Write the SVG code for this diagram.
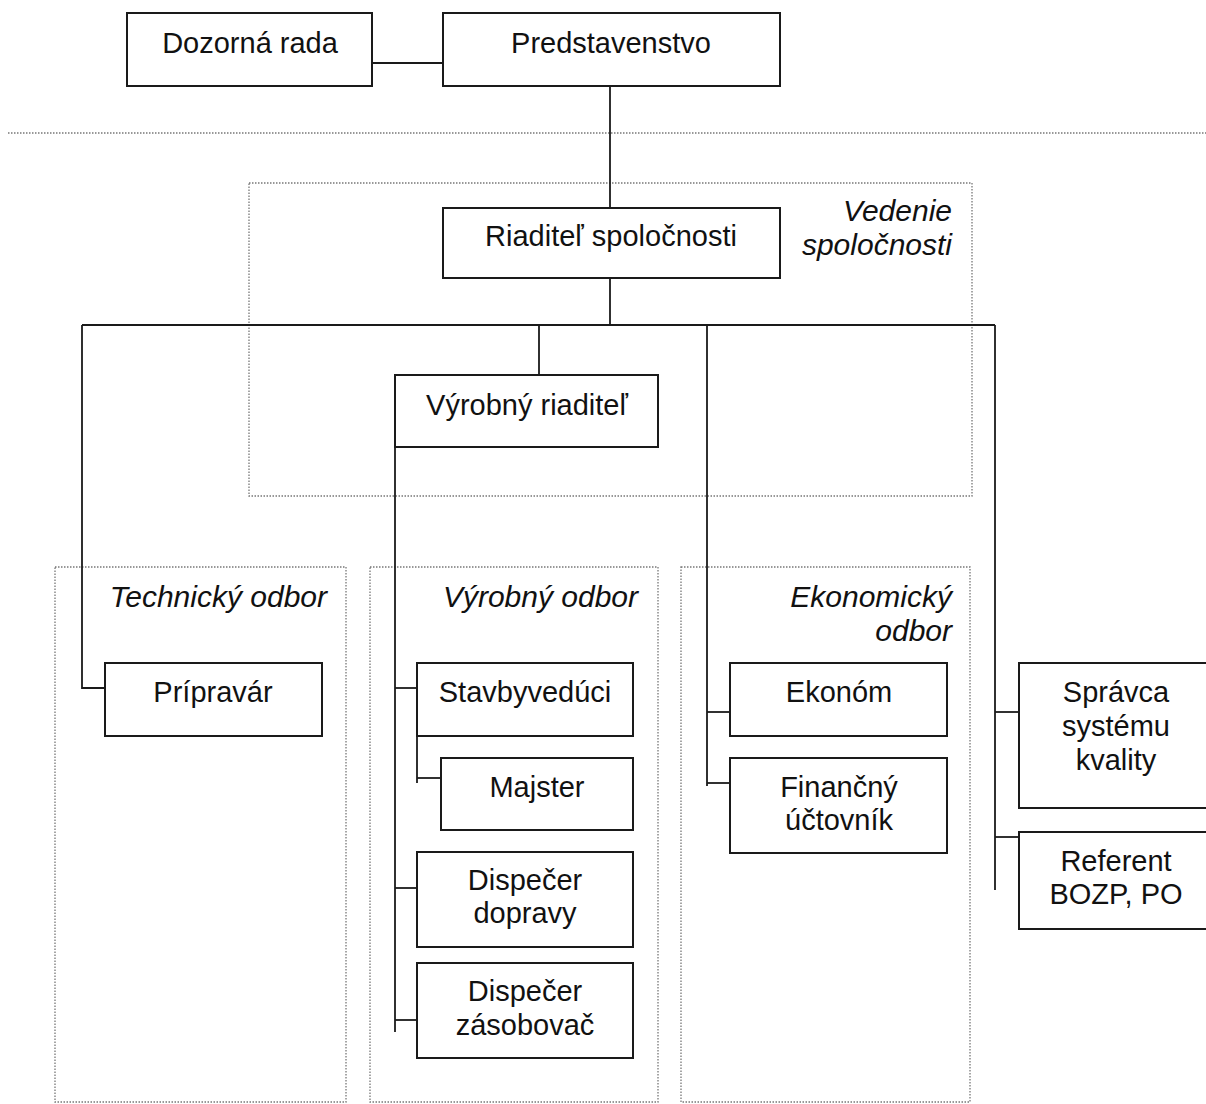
<svg xmlns="http://www.w3.org/2000/svg" width="1206" height="1104" viewBox="0 0 1206 1104">
<style>
.box{fill:#fff;stroke:#1a1a1a;stroke-width:2}
.grp{fill:none;stroke:#777;stroke-width:1.3;stroke-dasharray:1.5 1.5}
.c{fill:none;stroke:#1a1a1a;stroke-width:1.8}
text{font-family:"Liberation Sans",Arial,sans-serif;font-size:29px;fill:#111}
.t{text-anchor:middle}
.g{font-style:italic;text-anchor:end;font-size:30px}
</style>
<rect width="1206" height="1104" fill="#fff"/>
<g id="groups">
<line class="grp" x1="8" y1="133" x2="1206" y2="133"/>
<rect id="vedenie" class="grp" x="249" y="183" width="723" height="313"/>
<rect id="technicky" class="grp" x="55" y="567" width="291" height="535"/>
<rect id="vyrobny" class="grp" x="370" y="567" width="288" height="535"/>
<rect id="ekonomicky" class="grp" x="681" y="567" width="289" height="535"/>
<text class="g" x="952" y="221">Vedenie</text>
<text class="g" x="952" y="255">spoločnosti</text>
<text class="g" x="327" y="607">Technický odbor</text>
<text class="g" x="638" y="607">Výrobný odbor</text>
<text class="g" x="952" y="607">Ekonomický</text>
<text class="g" x="952" y="641">odbor</text>
</g>
<g id="connectors">
<line class="c" x1="372" y1="63" x2="443" y2="63"/>
<line class="c" x1="610" y1="86" x2="610" y2="208"/>
<line class="c" x1="610" y1="278" x2="610" y2="325"/>
<line class="c" x1="82" y1="325" x2="995" y2="325"/>
<line class="c" x1="539" y1="325" x2="539" y2="375"/>
<polyline class="c" points="82,325 82,688 105,688"/>
<line class="c" x1="395" y1="447" x2="395" y2="1032"/>
<line class="c" x1="395" y1="688" x2="417" y2="688"/>
<polyline class="c" points="417,736 417,783"/>
<line class="c" x1="417" y1="778" x2="441" y2="778"/>
<line class="c" x1="395" y1="888" x2="417" y2="888"/>
<line class="c" x1="395" y1="1020" x2="417" y2="1020"/>
<line class="c" x1="707" y1="325" x2="707" y2="786"/>
<line class="c" x1="707" y1="712" x2="730" y2="712"/>
<line class="c" x1="707" y1="783" x2="730" y2="783"/>
<line class="c" x1="995" y1="325" x2="995" y2="890"/>
<line class="c" x1="995" y1="712" x2="1019" y2="712"/>
<line class="c" x1="995" y1="837" x2="1019" y2="837"/>
</g>
<g id="dozorna"><rect class="box" x="127" y="13" width="245" height="73"/><text class="t" x="250" y="53">Dozorná rada</text></g>
<g id="predstavenstvo"><rect class="box" x="443" y="13" width="337" height="73"/><text class="t" x="611" y="53">Predstavenstvo</text></g>
<g id="riaditel"><rect class="box" x="443" y="208" width="337" height="70"/><text class="t" x="611" y="246">Riaditeľ spoločnosti</text></g>
<g id="vyrobny-riaditel"><rect class="box" x="395" y="375" width="263" height="72"/><text class="t" x="527" y="415">Výrobný riaditeľ</text></g>
<g id="pripravar"><rect class="box" x="105" y="663" width="217" height="73"/><text class="t" x="213" y="702">Prípravár</text></g>
<g id="stavbyveduci"><rect class="box" x="417" y="663" width="216" height="73"/><text class="t" x="525" y="702">Stavbyvedúci</text></g>
<g id="majster"><rect class="box" x="441" y="758" width="192" height="72"/><text class="t" x="537" y="797">Majster</text></g>
<g id="dispecer-dopravy"><rect class="box" x="417" y="852" width="216" height="95"/><text class="t" x="525" y="890">Dispečer</text><text class="t" x="525" y="923">dopravy</text></g>
<g id="dispecer-zasobovac"><rect class="box" x="417" y="963" width="216" height="95"/><text class="t" x="525" y="1001">Dispečer</text><text class="t" x="525" y="1035">zásobovač</text></g>
<g id="ekonom"><rect class="box" x="730" y="663" width="217" height="73"/><text class="t" x="839" y="702">Ekonóm</text></g>
<g id="financny"><rect class="box" x="730" y="758" width="217" height="95"/><text class="t" x="839" y="797">Finančný</text><text class="t" x="839" y="830">účtovník</text></g>
<g id="spravca"><rect class="box" x="1019" y="663" width="200" height="145"/><text class="t" x="1116" y="702">Správca</text><text class="t" x="1116" y="736">systému</text><text class="t" x="1116" y="770">kvality</text></g>
<g id="referent"><rect class="box" x="1019" y="832" width="200" height="97"/><text class="t" x="1116" y="871">Referent</text><text class="t" x="1116" y="904">BOZP, PO</text></g>
</svg>
